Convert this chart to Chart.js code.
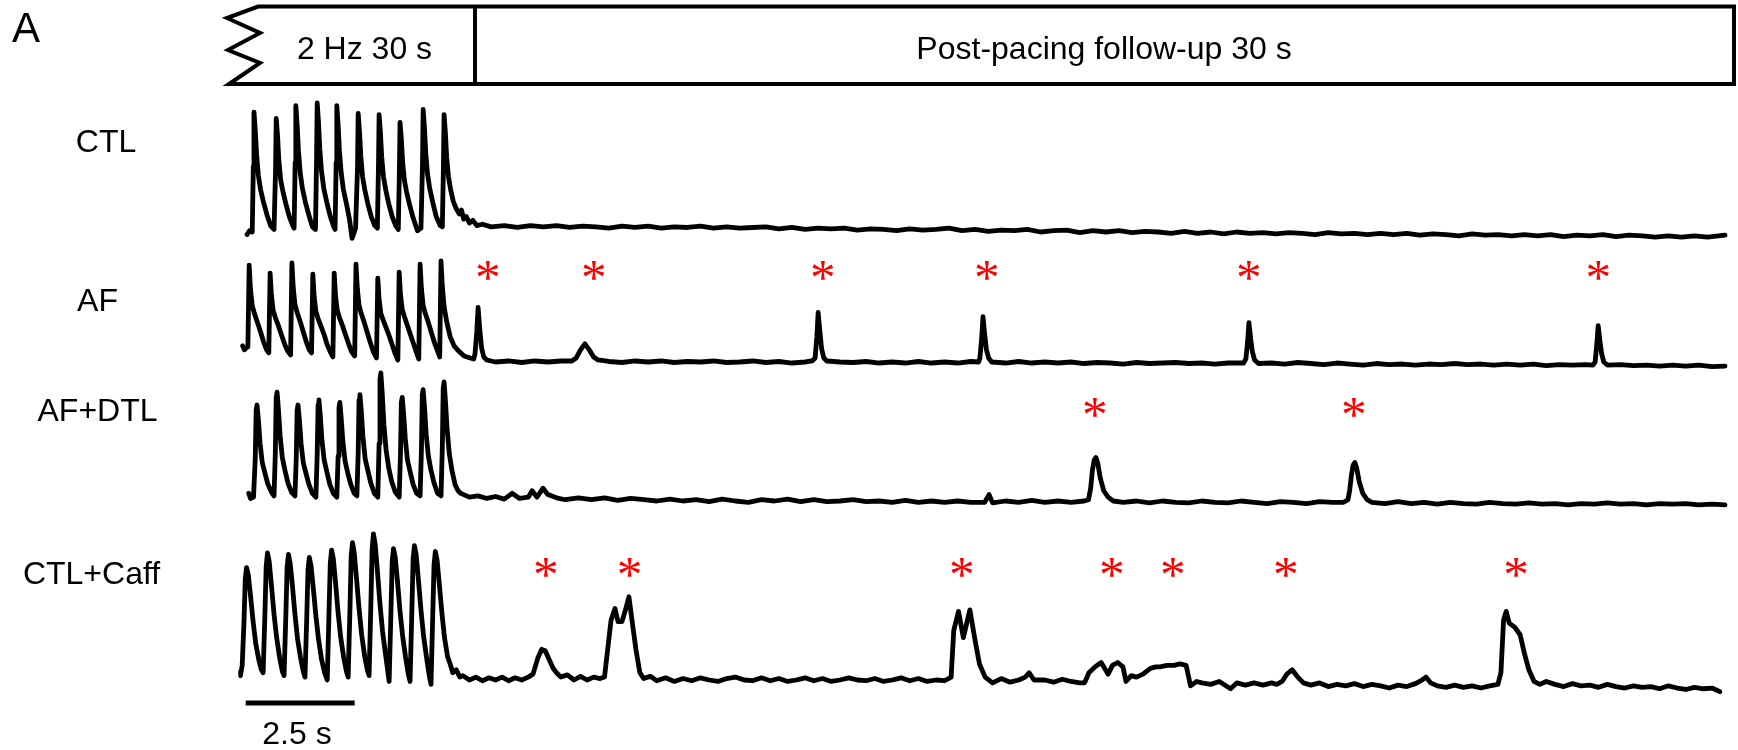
<!DOCTYPE html>
<html><head><meta charset="utf-8">
<script src="https://cdn.jsdelivr.net/npm/chart.js@4/dist/chart.umd.min.js"></script>
<style>
html,body{margin:0;padding:0;background:#fff;}
#wrap{position:relative;width:1738px;height:750px;overflow:hidden;background:#fff;}
#c{position:absolute;left:0;top:0;}
.lbl{position:absolute;font-family:"Liberation Sans",Arial,sans-serif;color:#000;white-space:nowrap;transform:translateX(-50%);}
</style></head><body>
<div id="wrap"><canvas id="c" width="1738" height="750"></canvas></div>
<script>
// ---- DATA (time in s, signal normalised: 0 = diastolic baseline, 1 = largest paced transient) ----
const ctlTrace = [
[0.00,-0.02],[0.06,0.01],[0.12,0.0],[0.145,0.51],[0.16,0.93],[0.19,0.79],[0.22,0.60],[0.26,0.44],[0.31,0.33],[0.38,0.23],[0.46,0.13],[0.54,0.05],
[0.62,0.02],[0.655,0.48],[0.67,0.88],[0.70,0.75],[0.73,0.56],[0.77,0.41],[0.82,0.32],[0.89,0.22],[0.97,0.12],[1.05,0.05],
[1.08,0.03],[1.105,0.54],[1.12,0.98],[1.15,0.83],[1.18,0.63],[1.22,0.46],[1.27,0.34],[1.34,0.23],[1.42,0.13],[1.50,0.04],
[1.57,0.02],[1.595,0.55],[1.61,1.00],[1.64,0.85],[1.67,0.64],[1.71,0.47],[1.76,0.34],[1.83,0.23],[1.91,0.12],[1.99,0.04],
[2.02,0.02],[2.045,0.54],[2.06,0.98],[2.09,0.83],[2.12,0.63],[2.16,0.46],[2.21,0.33],[2.28,0.22],[2.35,0.10],[2.41,-0.05],
[2.49,0.03],[2.535,0.50],[2.55,0.92],[2.58,0.78],[2.61,0.59],[2.65,0.43],[2.70,0.33],[2.77,0.22],[2.85,0.12],[2.93,0.05],
[2.99,0.03],[3.015,0.50],[3.03,0.91],[3.06,0.77],[3.09,0.58],[3.13,0.43],[3.18,0.33],[3.25,0.22],[3.33,0.12],[3.41,0.05],
[3.47,0.02],[3.495,0.47],[3.51,0.85],[3.54,0.72],[3.57,0.54],[3.61,0.40],[3.66,0.31],[3.73,0.21],[3.81,0.11],[3.91,0.01],
[3.99,0.03],[4.025,0.52],[4.04,0.95],[4.07,0.81],[4.10,0.61],[4.14,0.45],[4.19,0.34],[4.26,0.23],[4.34,0.12],[4.43,0.05],
[4.48,0.04],[4.505,0.50],[4.52,0.91],[4.55,0.77],[4.58,0.58],[4.62,0.43],[4.67,0.33],[4.73,0.24],[4.80,0.18],[4.87,0.14],
[4.92,0.17],[4.97,0.10],[5.03,0.12],[5.10,0.07],[5.18,0.09],[5.27,0.05],
[5.4,0.06],[5.6,0.04],[5.9,0.05],[6.2,0.035],[6.5,0.05],[6.8,0.04],[7.1,0.05],[7.4,0.035],[7.7,0.045],[8.0,0.04],
[8.3,0.03],[8.6,0.045],[8.9,0.035],[9.2,0.045],[9.5,0.03],[9.8,0.04],[10.1,0.035],[10.4,0.045],[10.7,0.03],[11.0,0.04],
[11.3,0.03],[11.6,0.035],[11.9,0.04],[12.2,0.025],[12.5,0.035],[12.8,0.02],[13.1,0.03],[13.4,0.025],[13.7,0.03],[14.0,0.015],
[14.3,0.025],[14.6,0.02],[14.9,0.01],[15.2,0.025],[15.5,0.015],[15.8,0.02],[16.1,0.03],[16.4,0.01],[16.7,0.02],[17.0,0.005],
[17.3,0.015],[17.6,0.01],[17.9,0.02],[18.2,0.0],[18.5,0.01],[18.8,0.015],[19.1,-0.005],[19.4,0.01],[19.7,0.0],[20.0,0.01],
[20.3,-0.005],[20.6,0.005],[20.9,0.0],[21.2,-0.01],[21.5,0.005],[21.8,-0.01],[22.1,0.0],[22.4,-0.015],[22.7,0.0],[23.0,-0.01],
[23.3,-0.005],[23.6,-0.015],[23.9,-0.005],[24.2,-0.01],[24.5,-0.02],[24.8,-0.005],[25.1,-0.015],[25.4,-0.01],[25.7,-0.02],[26.0,-0.01],
[26.3,-0.02],[26.6,-0.01],[26.9,-0.025],[27.2,-0.015],[27.5,-0.02],[27.8,-0.03],[28.1,-0.015],[28.4,-0.025],[28.7,-0.02],[29.0,-0.03],
[29.3,-0.02],[29.6,-0.03],[29.9,-0.02],[30.2,-0.035],[30.5,-0.025],[30.8,-0.03],[31.1,-0.02],[31.4,-0.035],[31.7,-0.025],[32.0,-0.03],
[32.3,-0.04],[32.6,-0.03],[32.9,-0.04],[33.2,-0.03],[33.5,-0.04],[33.9,-0.025]
];
const afTrace = [
[-0.10,0.16],[-0.06,0.12],[-0.02,0.14],[0.02,0.15],[0.05,0.96],[0.08,0.72],[0.12,0.56],[0.17,0.48],[0.24,0.39],[0.31,0.30],[0.38,0.20],[0.45,0.12],[0.50,0.09],
[0.53,0.88],[0.56,0.66],[0.60,0.51],[0.65,0.44],[0.72,0.36],[0.79,0.27],[0.86,0.18],[0.93,0.11],[1.00,0.07],
[1.03,0.98],[1.06,0.74],[1.10,0.57],[1.15,0.49],[1.22,0.40],[1.29,0.30],[1.36,0.20],[1.43,0.12],[1.48,0.09],
[1.51,0.87],[1.54,0.65],[1.58,0.50],[1.63,0.43],[1.70,0.35],[1.77,0.27],[1.84,0.17],[1.91,0.10],[1.97,0.05],
[2.00,0.88],[2.03,0.66],[2.07,0.51],[2.12,0.44],[2.19,0.36],[2.26,0.27],[2.33,0.18],[2.40,0.10],[2.47,0.06],
[2.50,0.97],[2.53,0.73],[2.57,0.56],[2.62,0.48],[2.69,0.39],[2.76,0.29],[2.83,0.19],[2.90,0.10],[2.97,0.04],
[3.00,0.83],[3.03,0.62],[3.07,0.48],[3.12,0.42],[3.19,0.34],[3.26,0.26],[3.33,0.17],[3.40,0.08],[3.46,0.02],
[3.49,0.89],[3.52,0.67],[3.56,0.52],[3.61,0.45],[3.68,0.36],[3.75,0.27],[3.82,0.18],[3.89,0.09],[3.94,0.03],
[3.97,0.97],[4.00,0.73],[4.04,0.56],[4.09,0.48],[4.16,0.39],[4.23,0.29],[4.30,0.19],[4.37,0.11],[4.42,0.05],
[4.45,1.00],[4.48,0.75],[4.52,0.55],[4.58,0.40],[4.66,0.25],[4.75,0.16],[4.85,0.11],[4.98,0.06],[5.12,0.04],[5.20,0.03],
[5.23,0.08],[5.27,0.30],[5.30,0.54],[5.34,0.32],[5.38,0.14],[5.43,0.05],[5.50,0.02],
[5.7,0.0],[6.0,0.01],[6.3,-0.005],[6.6,0.01],[6.9,0.0],[7.2,0.01],[7.45,0.01],
[7.55,0.04],[7.65,0.12],[7.75,0.18],[7.85,0.12],[7.95,0.05],[8.05,0.02],
[8.3,0.005],[8.6,-0.005],[8.9,0.01],[9.2,0.0],[9.5,0.01],[9.8,-0.005],[10.1,0.005],[10.4,0.0],[10.7,0.01],[11.0,-0.005],
[11.3,0.0],[11.6,0.01],[11.9,-0.005],[12.2,0.005],[12.5,-0.01],[12.8,0.0],[12.96,0.01],
[13.03,0.04],[13.07,0.25],[13.10,0.49],[13.14,0.30],[13.18,0.13],[13.23,0.04],[13.30,0.01],
[13.6,0.0],[13.9,-0.005],[14.2,0.005],[14.5,-0.01],[14.8,0.0],[15.1,-0.01],[15.4,0.005],[15.7,-0.01],[16.0,0.0],[16.3,-0.01],[16.6,0.005],[16.78,0.0],
[16.81,0.04],[16.85,0.23],[16.88,0.45],[16.92,0.27],[16.96,0.12],[17.01,0.04],[17.08,0.0],
[17.4,-0.01],[17.7,0.005],[18.0,-0.01],[18.3,0.0],[18.6,-0.01],[18.9,0.0],[19.2,-0.015],[19.5,-0.005],[19.8,-0.01],[20.1,-0.02],
[20.4,-0.005],[20.7,-0.015],[21.0,-0.01],[21.3,-0.005],[21.6,-0.015],[21.9,-0.01],[22.2,-0.02],[22.5,-0.01],[22.86,-0.01],
[22.91,0.03],[22.95,0.20],[22.98,0.39],[23.02,0.23],[23.06,0.10],[23.11,0.02],[23.2,-0.015],
[23.5,-0.01],[23.8,-0.02],[24.1,-0.005],[24.4,-0.015],[24.7,-0.025],[25.0,-0.01],[25.3,-0.02],[25.6,-0.03],[25.9,-0.015],[26.2,-0.025],
[26.5,-0.02],[26.8,-0.03],[27.1,-0.02],[27.4,-0.025],[27.7,-0.015],[28.0,-0.025],[28.3,-0.02],[28.6,-0.03],[28.9,-0.02],[29.2,-0.03],
[29.5,-0.02],[29.8,-0.035],[30.1,-0.025],[30.4,-0.03],[30.7,-0.025],[30.87,-0.03],
[30.92,0.0],[30.96,0.18],[30.99,0.36],[31.03,0.21],[31.07,0.08],[31.12,0.0],[31.2,-0.03],
[31.5,-0.025],[31.8,-0.035],[32.1,-0.03],[32.4,-0.04],[32.7,-0.03],[33.0,-0.04],[33.3,-0.03],[33.6,-0.045],[33.9,-0.04]
];
const dtlTrace = [
[0.04,0.06],[0.08,0.02],[0.15,0.03],[0.19,0.34],[0.21,0.71],[0.23,0.75],[0.26,0.64],[0.30,0.45],[0.35,0.30],[0.41,0.22],[0.48,0.13],[0.56,0.07],[0.62,0.04],
[0.65,0.38],[0.67,0.81],[0.69,0.85],[0.72,0.72],[0.76,0.51],[0.81,0.34],[0.87,0.24],[0.94,0.14],[1.02,0.07],[1.10,0.04],
[1.13,0.34],[1.15,0.71],[1.17,0.75],[1.20,0.64],[1.24,0.45],[1.29,0.30],[1.35,0.22],[1.42,0.13],[1.50,0.06],[1.58,0.03],
[1.61,0.36],[1.63,0.75],[1.65,0.79],[1.68,0.67],[1.72,0.47],[1.77,0.32],[1.83,0.23],[1.90,0.13],[1.98,0.06],[2.06,0.03],
[2.09,0.35],[2.11,0.73],[2.13,0.77],[2.16,0.65],[2.20,0.46],[2.25,0.31],[2.31,0.22],[2.38,0.13],[2.46,0.06],[2.52,0.04],
[2.55,0.37],[2.57,0.79],[2.59,0.83],[2.62,0.71],[2.66,0.50],[2.71,0.33],[2.77,0.24],[2.84,0.14],[2.92,0.06],[3.00,0.03],
[3.03,0.45],[3.05,0.95],[3.07,1.00],[3.10,0.85],[3.14,0.60],[3.19,0.40],[3.25,0.26],[3.32,0.15],[3.40,0.07],[3.49,0.03],
[3.52,0.36],[3.54,0.77],[3.56,0.81],[3.59,0.69],[3.63,0.49],[3.68,0.32],[3.74,0.23],[3.81,0.13],[3.89,0.06],[3.97,0.04],
[4.00,0.39],[4.02,0.83],[4.04,0.87],[4.07,0.74],[4.11,0.52],[4.16,0.35],[4.22,0.24],[4.29,0.14],[4.37,0.06],[4.45,0.04],
[4.48,0.42],[4.50,0.88],[4.52,0.93],[4.55,0.79],[4.59,0.56],[4.64,0.37],[4.70,0.24],[4.77,0.13],[4.84,0.08],[4.90,0.06],
[4.97,0.05],[5.1,0.03],[5.3,0.04],[5.5,0.02],[5.7,0.035],[5.9,0.015],[6.08,0.06],[6.25,0.02],[6.45,0.03],[6.54,0.08],
[6.65,0.03],[6.79,0.10],[6.9,0.05],[7.1,0.025],[7.3,0.01],[7.6,0.025],[7.9,0.01],[8.2,0.025],[8.5,0.005],[8.8,0.02],
[9.1,0.01],[9.4,0.0],[9.7,0.015],[10.0,0.0],[10.3,0.01],[10.6,-0.005],[10.9,0.015],[11.2,0.0],[11.5,-0.01],[11.8,0.01],
[12.1,0.0],[12.4,0.015],[12.7,-0.005],[13.0,0.01],[13.3,-0.005],[13.6,0.0],[13.9,0.01],[14.2,-0.005],[14.5,0.0],[14.8,-0.01],
[15.1,0.005],[15.4,-0.01],[15.7,0.0],[16.0,-0.01],[16.3,0.0],[16.6,-0.01],[16.92,-0.01],[17.02,0.05],[17.1,-0.015],[17.4,0.0],
[17.7,-0.01],[18.0,0.005],[18.3,-0.01],[18.6,0.0],[18.9,-0.01],[19.2,0.0],[19.30,0.01],
[19.35,0.10],[19.39,0.24],[19.43,0.32],[19.47,0.34],[19.51,0.30],[19.57,0.18],[19.65,0.08],[19.75,0.03],[19.87,0.0],
[20.1,-0.01],[20.4,0.0],[20.7,-0.015],[21.0,0.0],[21.3,-0.01],[21.6,-0.015],[21.9,0.0],[22.2,-0.01],[22.5,-0.015],[22.8,0.0],
[23.1,-0.01],[23.4,-0.02],[23.7,-0.005],[24.0,-0.01],[24.3,-0.02],[24.6,-0.005],[24.9,-0.01],[25.15,-0.01],[25.25,0.01],
[25.29,0.08],[25.33,0.20],[25.37,0.28],[25.41,0.30],[25.45,0.26],[25.51,0.15],[25.59,0.06],[25.69,0.01],[25.8,-0.01],
[26.1,-0.02],[26.4,-0.005],[26.7,-0.02],[27.0,-0.01],[27.3,-0.025],[27.6,-0.01],[27.9,-0.02],[28.2,-0.025],[28.5,-0.01],[28.8,-0.02],
[29.1,-0.025],[29.4,-0.015],[29.7,-0.025],[30.0,-0.02],[30.3,-0.03],[30.6,-0.02],[30.9,-0.025],[31.2,-0.015],[31.5,-0.025],[31.8,-0.02],
[32.1,-0.03],[32.4,-0.02],[32.7,-0.025],[33.0,-0.02],[33.3,-0.03],[33.6,-0.025],[33.9,-0.03]
];
const caffTrace = [
[-0.19,0.05],[-0.15,0.03],[-0.11,0.10],[-0.07,0.39],[-0.04,0.69],[-0.01,0.77],[0.03,0.72],[0.08,0.58],[0.14,0.40],[0.20,0.25],[0.27,0.14],[0.33,0.07],[0.37,0.05],
[0.41,0.44],[0.44,0.78],[0.47,0.87],[0.51,0.81],[0.56,0.65],[0.62,0.45],[0.68,0.29],[0.75,0.15],[0.81,0.06],[0.85,0.03],
[0.89,0.43],[0.92,0.77],[0.95,0.86],[0.99,0.80],[1.04,0.65],[1.10,0.45],[1.16,0.28],[1.23,0.15],[1.29,0.06],[1.33,0.02],
[1.37,0.42],[1.40,0.76],[1.43,0.84],[1.47,0.78],[1.52,0.63],[1.58,0.44],[1.64,0.28],[1.71,0.14],[1.78,0.05],[1.84,0.0],
[1.88,0.45],[1.91,0.80],[1.94,0.89],[1.98,0.83],[2.03,0.67],[2.09,0.46],[2.15,0.29],[2.22,0.15],[2.28,0.06],[2.32,0.02],
[2.36,0.47],[2.39,0.85],[2.42,0.94],[2.46,0.87],[2.51,0.70],[2.57,0.49],[2.63,0.31],[2.70,0.16],[2.76,0.07],[2.80,0.03],
[2.84,0.50],[2.87,0.90],[2.90,1.00],[2.94,0.93],[2.99,0.75],[3.05,0.52],[3.11,0.33],[3.18,0.17],[3.23,0.06],[3.26,-0.01],
[3.30,0.45],[3.33,0.81],[3.36,0.90],[3.40,0.84],[3.45,0.68],[3.51,0.47],[3.57,0.30],[3.64,0.15],[3.70,0.04],[3.74,-0.01],
[3.78,0.46],[3.81,0.83],[3.84,0.92],[3.88,0.86],[3.93,0.69],[3.99,0.48],[4.05,0.30],[4.12,0.15],[4.18,0.03],[4.22,-0.03],
[4.26,0.44],[4.29,0.79],[4.32,0.88],[4.36,0.82],[4.41,0.66],[4.47,0.46],[4.53,0.29],[4.60,0.16],[4.66,0.11],[4.72,0.05],[4.80,0.07],[4.88,0.02],
[4.95,0.03],[5.1,0.0],[5.25,0.02],[5.4,-0.005],[5.55,0.015],[5.7,0.0],[5.85,0.02],[6.0,-0.005],[6.15,0.015],[6.3,0.0],[6.45,0.02],
[6.56,0.04],[6.67,0.15],[6.76,0.21],[6.84,0.20],[6.93,0.14],[7.02,0.08],[7.10,0.05],
[7.2,0.02],[7.35,0.035],[7.5,0.0],[7.65,0.025],[7.8,0.0],[7.95,0.02],[8.1,0.01],
[8.20,0.02],[8.28,0.23],[8.35,0.41],[8.44,0.49],[8.51,0.40],[8.60,0.40],[8.69,0.49],[8.76,0.57],[8.83,0.41],[8.92,0.21],[9.01,0.05],
[9.1,0.01],[9.25,0.025],[9.4,-0.005],[9.6,0.015],[9.8,-0.01],[10.0,0.01],[10.2,-0.005],[10.4,0.015],[10.6,0.0],[10.8,-0.01],
[11.0,0.01],[11.2,0.02],[11.4,0.0],[11.6,-0.005],[11.8,0.015],[12.0,-0.005],[12.2,0.01],[12.4,-0.01],[12.6,0.0],[12.8,0.015],
[13.0,-0.005],[13.2,0.01],[13.4,-0.01],[13.6,0.0],[13.8,0.015],[14.0,0.0],[14.2,-0.005],[14.4,0.01],[14.6,-0.01],[14.8,0.0],
[15.0,0.015],[15.2,-0.005],[15.4,0.01],[15.6,-0.01],[15.8,0.0],[16.0,-0.005],
[16.15,0.02],[16.21,0.34],[16.32,0.47],[16.43,0.29],[16.58,0.48],[16.70,0.27],[16.80,0.11],[16.93,0.02],
[17.1,-0.02],[17.3,0.01],[17.5,-0.015],[17.7,0.0],[17.85,0.02],[17.94,0.05],[18.05,0.0],[18.3,0.0],[18.5,-0.015],[18.7,0.005],[18.9,-0.01],[19.1,-0.02],
[19.21,-0.02],[19.31,0.05],[19.45,0.09],[19.59,0.12],[19.67,0.08],[19.75,0.04],[19.85,0.10],[19.97,0.12],[20.09,0.09],[20.16,-0.01],
[20.28,0.03],[20.40,0.02],[20.55,0.04],[20.72,0.08],[20.84,0.09],[20.94,0.09],[21.1,0.10],[21.26,0.10],[21.4,0.11],[21.54,0.10],[21.64,-0.04],[21.78,-0.01],[21.9,-0.02],
[22.1,-0.03],[22.3,-0.01],[22.56,-0.06],[22.7,-0.02],[22.9,-0.035],[23.1,-0.02],[23.3,-0.035],[23.5,-0.02],[23.62,-0.03],
[23.74,-0.01],[23.85,0.04],[23.97,0.07],[24.1,0.02],[24.23,-0.02],
[24.4,-0.035],[24.6,-0.02],[24.8,-0.045],[25.0,-0.03],[25.2,-0.04],[25.4,-0.025],[25.6,-0.045],[25.8,-0.03],[26.0,-0.04],[26.2,-0.055],
[26.4,-0.035],[26.6,-0.045],[26.8,-0.025],[26.95,0.0],[27.04,0.02],[27.15,-0.02],[27.3,-0.04],[27.5,-0.05],[27.7,-0.035],[27.9,-0.05],
[28.1,-0.04],[28.3,-0.055],[28.5,-0.04],[28.69,-0.03],
[28.76,0.05],[28.82,0.41],[28.88,0.47],[28.95,0.39],[29.08,0.36],[29.20,0.31],[29.30,0.18],[29.40,0.07],[29.52,-0.01],
[29.65,-0.03],[29.8,-0.01],[30.0,-0.03],[30.2,-0.045],[30.4,-0.025],[30.6,-0.04],[30.8,-0.035],[31.0,-0.05],[31.2,-0.03],[31.4,-0.045],
[31.6,-0.055],[31.8,-0.04],[32.0,-0.05],[32.2,-0.045],[32.4,-0.06],[32.6,-0.04],[32.8,-0.055],[33.0,-0.065],[33.2,-0.05],[33.4,-0.06],[33.6,-0.055],[33.78,-0.08]
];
// times (s) of the spontaneous events marked with red asterisks
const afStarTimes   = [5.53, 7.96, 13.21, 16.97, 22.98, 31.0];
const dtlStarTimes  = [19.45, 25.39];
const caffStarTimes = [6.86, 8.78, 16.40, 19.84, 21.24, 23.83, 29.11];
const rowNames = ['CTL', 'AF', 'AF+DTL', 'CTL+Caff'];
const phaseLabels = ['2 Hz 30 s', 'Post-pacing follow-up 30 s'];
const scaleBarSeconds = 2.5;
const scaleBarLabel = '2.5 s';

// ---- LAYOUT ----
const W = 1738, H = 750;
const PX0 = 247, PXS = 43.6, XMIN = -0.2, XMAX = 34;
const rows = [
  {id:'yCTL',  trace: ctlTrace,  zero:232, one:103, stars:null,          starY:0,   lx:106,  ly:141},
  {id:'yAF',   trace: afTrace,   zero:362, one:261, stars:afStarTimes,   starY:270, lx:97.5, ly:300},
  {id:'yDTL',  trace: dtlTrace,  zero:501, one:373, stars:dtlStarTimes,  starY:407, lx:97.5, ly:410},
  {id:'yCAFF', trace: caffTrace, zero:680, one:534, stars:caffStarTimes, starY:567, lx:91.5, ly:573}
];
const LABEL_SIZE = 32;

const wrap = document.getElementById('wrap');
function addLabel(text, cx, cy, size){
  const d = document.createElement('div');
  d.className = 'lbl';
  d.textContent = text;
  d.style.fontSize = size + 'px';
  d.style.lineHeight = size + 'px';
  d.style.left = cx + 'px';
  d.style.top = (cy - 0.4885 * size) + 'px';
  wrap.appendChild(d);
}
addLabel('A', 26, 28, 42);
rows.forEach((r, i) => addLabel(rowNames[i], r.lx, r.ly, LABEL_SIZE));
addLabel(phaseLabels[0], 364.5, 47.5, LABEL_SIZE);
addLabel(phaseLabels[1], 1104, 47.5, LABEL_SIZE);
addLabel(scaleBarLabel, 297, 732.5, LABEL_SIZE);

const scales = {
  x: {type:'linear', min:XMIN, max:XMAX, display:false}
};
rows.forEach(r => {
  const unit = r.zero - r.one;
  scales[r.id] = {type:'linear', display:false, bounds:'data', min:(r.zero - H)/unit, max:r.zero/unit};
});

const datasets = rows.map((r, i) => ({
  label: rowNames[i],
  data: r.trace.map(p => ({x:p[0], y:p[1]})),
  yAxisID: r.id,
  borderColor: '#000',
  borderWidth: 4.8,
  pointRadius: 0,
  tension: 0,
  fill: false,
  borderJoinStyle: 'round',
  borderCapStyle: 'round'
}));

const overlay = {
  id: 'overlay',
  afterDraw(chart){
    const ctx = chart.ctx;
    const xs = chart.scales.x;
    ctx.save();
    // protocol box
    ctx.strokeStyle = '#000';
    ctx.lineWidth = 4;
    ctx.lineJoin = 'miter';
    ctx.beginPath();
    ctx.moveTo(1734, 84);
    ctx.lineTo(1734, 6.5);
    ctx.lineTo(258, 6.5);
    ctx.lineTo(227, 18);
    ctx.lineTo(260, 33);
    ctx.lineTo(228, 50);
    ctx.lineTo(260, 63);
    ctx.lineTo(229, 84);
    ctx.closePath();
    ctx.stroke();
    ctx.beginPath();
    ctx.moveTo(475, 6.5);
    ctx.lineTo(475, 84);
    ctx.stroke();
    // scale bar
    const sb0 = xs.getPixelForValue(-0.03), sb1 = xs.getPixelForValue(-0.03 + scaleBarSeconds);
    ctx.fillStyle = '#000';
    ctx.fillRect(sb0, 700.5, sb1 - sb0, 5);
    // asterisks
    ctx.fillStyle = '#ff0000';
    ctx.font = '100px "Liberation Serif"';
    ctx.textAlign = 'left';
    ctx.textBaseline = 'alphabetic';
    let m = ctx.measureText('*');
    const h100 = m.actualBoundingBoxAscent + m.actualBoundingBoxDescent;
    const size = 100 * 19 / h100;
    ctx.font = size + 'px "Liberation Serif"';
    m = ctx.measureText('*');
    rows.forEach(r => {
      if (!r.stars) return;
      r.stars.forEach(t => {
        const cx = xs.getPixelForValue(t);
        const x = cx - (m.actualBoundingBoxRight - m.actualBoundingBoxLeft) / 2;
        const y = r.starY + (m.actualBoundingBoxAscent - m.actualBoundingBoxDescent) / 2;
        ctx.fillText('*', x, y);
      });
    });
    ctx.restore();
  }
};

new Chart(document.getElementById('c'), {
  type: 'line',
  data: {datasets},
  options: {
    responsive: false,
    animation: false,
    devicePixelRatio: 1,
    events: [],
    layout: {padding: {left: PX0 + XMIN * PXS, right: W - (PX0 + XMAX * PXS), top: 0, bottom: 0}},
    plugins: {legend: {display:false}, tooltip: {enabled:false}},
    scales
  },
  plugins: [overlay]
});
</script>
</body></html>
